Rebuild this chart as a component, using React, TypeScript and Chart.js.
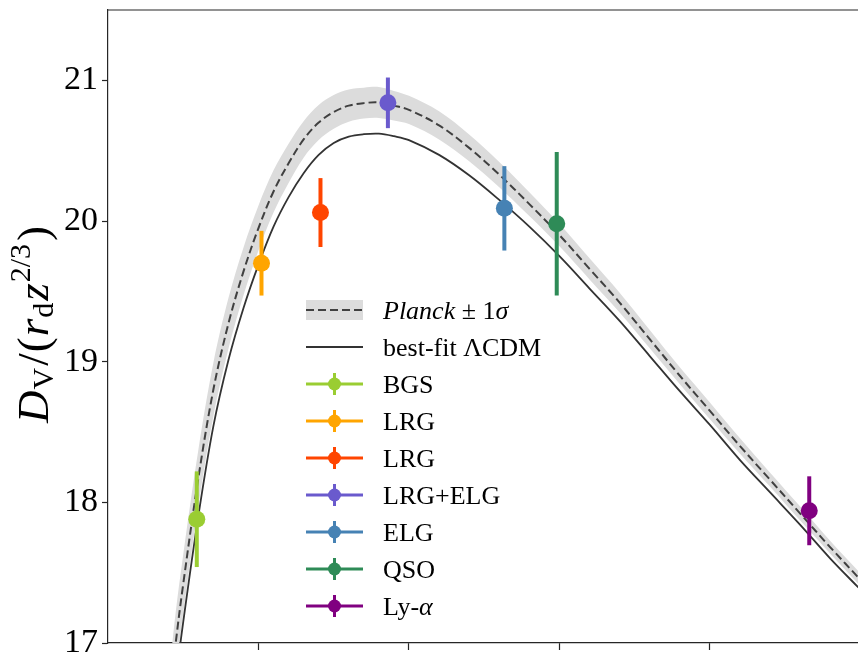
import React, { useEffect, useRef } from "react";
import { Chart, registerables } from "chart.js";

Chart.register(...registerables);

// ---- Model curves ----
const curveZ = [0.2, 0.225, 0.25, 0.3, 0.35, 0.4, 0.45, 0.5, 0.55, 0.6, 0.65, 0.7, 0.75, 0.8, 0.85, 0.9, 0.95, 1.0, 1.1, 1.2, 1.3, 1.4, 1.5, 1.6, 1.7, 1.8, 1.9, 2.0, 2.1, 2.2, 2.3, 2.4, 2.5];
const planckMid = [16.5, 17.0, 17.42, 18.17, 18.8, 19.27, 19.64, 19.95, 20.21, 20.41, 20.58, 20.7, 20.775, 20.82, 20.838, 20.843, 20.82, 20.79, 20.68, 20.52, 20.33, 20.12, 19.9, 19.66, 19.42, 19.16, 18.9, 18.65, 18.4, 18.16, 17.92, 17.68, 17.45];
const planckUpper = [16.72, 17.22, 17.63, 18.37, 18.99, 19.45, 19.81, 20.11, 20.36, 20.55, 20.71, 20.825, 20.895, 20.935, 20.948, 20.953, 20.925, 20.89, 20.78, 20.615, 20.42, 20.205, 19.98, 19.735, 19.49, 19.225, 18.96, 18.71, 18.455, 18.21, 17.97, 17.725, 17.495];
const planckLower = [16.28, 16.78, 17.21, 17.97, 18.61, 19.09, 19.47, 19.79, 20.06, 20.27, 20.45, 20.575, 20.655, 20.705, 20.728, 20.733, 20.715, 20.69, 20.58, 20.425, 20.24, 20.035, 19.82, 19.585, 19.35, 19.095, 18.84, 18.59, 18.345, 18.11, 17.87, 17.635, 17.405];
const bestFit = [16.23, 16.73, 17.15, 17.9, 18.54, 19.01, 19.38, 19.69, 19.96, 20.17, 20.34, 20.47, 20.555, 20.6, 20.617, 20.621, 20.603, 20.575, 20.47, 20.325, 20.15, 19.96, 19.75, 19.52, 19.29, 19.04, 18.79, 18.55, 18.3, 18.07, 17.84, 17.6, 17.38];

// ---- DESI measurements ----
const tracerNames = ["BGS", "LRG", "LRG", "LRG+ELG", "ELG", "QSO", "Ly-α"];
const tracerZ = [0.295, 0.51, 0.706, 0.93, 1.317, 1.491, 2.33];
const tracerV = [17.88, 19.7, 20.06, 20.84, 20.09, 19.98, 17.94];
const tracerErr = [0.34, 0.23, 0.245, 0.18, 0.3, 0.51, 0.245];
const tracerColors = ["#9ACD32", "#FFA500", "#FF4500", "#6A5ACD", "#4682B4", "#2E8B57", "#800080"];

// ---- Axes ----
const yTicks = [17, 18, 19, 20, 21];
const xTicks = [0.5, 1.0, 1.5, 2.0];
const yMin = 17;
const yMax = 21.5;
const xMin = 0;
const xMax = 2.492;

const SERIF = '"Liberation Serif", "Times New Roman", serif';
const AXIS_COLOR = "#262626";

const pts = (ys: number[]) => curveZ.map((z, i) => ({ x: z, y: ys[i] }));

const errorBarPlugin = {
  id: "errorBars",
  beforeDatasetDraw(chart: any, args: any) {
    const ds = chart.data.datasets[args.index];
    if (ds.tracerIndex === undefined) return;
    const i = ds.tracerIndex;
    const xs = chart.scales.x;
    const ys = chart.scales.y;
    const ctx = chart.ctx;
    const px = xs.getPixelForValue(tracerZ[i]);
    const y1 = ys.getPixelForValue(tracerV[i] + tracerErr[i]);
    const y2 = ys.getPixelForValue(tracerV[i] - tracerErr[i]);
    ctx.save();
    ctx.strokeStyle = tracerColors[i];
    ctx.lineWidth = 4;
    ctx.beginPath();
    ctx.moveTo(px, y1);
    ctx.lineTo(px, y2);
    ctx.stroke();
    ctx.restore();
  },
};

function drawPieces(ctx: CanvasRenderingContext2D, x: number, y: number, pieces: { t: string; font: string; dy: number; gap?: number }[]) {
  let cx = x;
  for (const p of pieces) {
    ctx.font = p.font;
    ctx.fillText(p.t, cx, y + p.dy);
    cx += ctx.measureText(p.t).width + (p.gap || 0);
  }
}

const decorPlugin = {
  id: "decor",
  afterDraw(chart: any) {
    const ctx: CanvasRenderingContext2D = chart.ctx;
    const area = chart.chartArea;
    ctx.save();
    // top spine
    ctx.strokeStyle = AXIS_COLOR;
    ctx.lineWidth = 1.2;
    ctx.beginPath();
    ctx.moveTo(area.left, area.top);
    ctx.lineTo(area.right, area.top);
    ctx.stroke();

    // y-axis title
    ctx.save();
    ctx.translate(48, 423);
    ctx.rotate(-Math.PI / 2);
    ctx.fillStyle = "#000";
    ctx.textAlign = "left";
    ctx.textBaseline = "alphabetic";
    drawPieces(ctx, 0, 0, [
      { t: "D", font: `italic 45px ${SERIF}`, dy: 0, gap: 1 },
      { t: "V", font: `30px ${SERIF}`, dy: 5, gap: 2 },
      { t: "/", font: `45px ${SERIF}`, dy: 0, gap: 1 },
      { t: "(", font: `45px ${SERIF}`, dy: 0, gap: 1 },
      { t: "r", font: `italic 45px ${SERIF}`, dy: 0, gap: 1 },
      { t: "d", font: `30px ${SERIF}`, dy: 5, gap: 2 },
      { t: "z", font: `italic 45px ${SERIF}`, dy: 0, gap: 1 },
      { t: "2/3", font: `30px ${SERIF}`, dy: -18, gap: 3 },
      { t: ")", font: `45px ${SERIF}`, dy: 0 },
    ]);
    ctx.restore();

    // legend
    const hx1 = 306;
    const hx2 = 363;
    const hcx = (hx1 + hx2) / 2;
    const tx = 383;
    const y0 = 310;
    const dy = 37;
    const base = 9;
    const LF = `26px ${SERIF}`;
    const LFI = `italic 26px ${SERIF}`;
    ctx.textAlign = "left";
    ctx.textBaseline = "alphabetic";

    // Planck row
    ctx.fillStyle = "#dcdcdc";
    ctx.fillRect(hx1, y0 - 10, hx2 - hx1, 20);
    ctx.strokeStyle = "#404040";
    ctx.lineWidth = 2;
    ctx.setLineDash([8, 4]);
    ctx.beginPath();
    ctx.moveTo(hx1, y0);
    ctx.lineTo(hx2, y0);
    ctx.stroke();
    ctx.setLineDash([]);
    ctx.fillStyle = "#000";
    drawPieces(ctx, tx, y0 + base, [
      { t: "Planck", font: LFI, dy: 0 },
      { t: " ± 1", font: LF, dy: 0 },
      { t: "σ", font: LFI, dy: 0 },
    ]);

    // best-fit row
    const y1 = y0 + dy;
    ctx.strokeStyle = "#333333";
    ctx.lineWidth = 1.8;
    ctx.beginPath();
    ctx.moveTo(hx1, y1);
    ctx.lineTo(hx2, y1);
    ctx.stroke();
    drawPieces(ctx, tx, y1 + base, [{ t: "best-fit ΛCDM", font: LF, dy: 0 }]);

    // tracer rows
    tracerNames.forEach((name, i) => {
      const y = y0 + dy * (i + 2);
      ctx.strokeStyle = tracerColors[i];
      ctx.fillStyle = tracerColors[i];
      ctx.lineWidth = 3;
      ctx.beginPath();
      ctx.moveTo(hx1, y);
      ctx.lineTo(hx2, y);
      ctx.moveTo(hcx, y - 11);
      ctx.lineTo(hcx, y + 11);
      ctx.stroke();
      ctx.beginPath();
      ctx.arc(hcx, y, 6.5, 0, Math.PI * 2);
      ctx.fill();
      ctx.fillStyle = "#000";
      if (name === "Ly-α") {
        drawPieces(ctx, tx, y + base, [
          { t: "Ly-", font: LF, dy: 0 },
          { t: "α", font: LFI, dy: 0 },
        ]);
      } else {
        drawPieces(ctx, tx, y + base, [{ t: name, font: LF, dy: 0 }]);
      }
    });
    ctx.restore();
  },
};

export default function App() {
  const canvasRef = useRef<HTMLCanvasElement | null>(null);

  useEffect(() => {
    if (!canvasRef.current) return;
    const datasets: any[] = [];
    tracerNames.forEach((name, i) => {
      datasets.push({
        type: "scatter",
        label: name,
        tracerIndex: i,
        data: [{ x: tracerZ[i], y: tracerV[i] }],
        pointRadius: 8.5,
        pointBackgroundColor: tracerColors[i],
        pointBorderColor: tracerColors[i],
        pointBorderWidth: 0,
        order: 1,
      });
    });
    datasets.push({
      type: "line",
      label: "best-fit",
      data: pts(bestFit),
      borderColor: "#333333",
      borderWidth: 1.8,
      pointRadius: 0,
      fill: false,
      tension: 0.35,
      order: 5,
    });
    datasets.push({
      type: "line",
      label: "Planck",
      data: pts(planckMid),
      borderColor: "#404040",
      borderWidth: 2,
      borderDash: [8, 4],
      pointRadius: 0,
      fill: false,
      tension: 0.35,
      order: 6,
    });
    datasets.push({
      type: "line",
      label: "Planck upper",
      data: pts(planckUpper),
      borderWidth: 0,
      borderColor: "rgba(0,0,0,0)",
      backgroundColor: "#dcdcdc",
      pointRadius: 0,
      fill: "+1",
      tension: 0.35,
      order: 8,
    });
    datasets.push({
      type: "line",
      label: "Planck lower",
      data: pts(planckLower),
      borderWidth: 0,
      borderColor: "rgba(0,0,0,0)",
      pointRadius: 0,
      fill: false,
      tension: 0.35,
      order: 9,
    });

    const chart = new Chart(canvasRef.current, {
      type: "scatter",
      data: { datasets },
      options: {
        animation: false,
        responsive: false,
        devicePixelRatio: 1,
        layout: { autoPadding: false, padding: { top: 10, left: 0, right: 0, bottom: 0 } },
        plugins: {
          legend: { display: false },
          tooltip: { enabled: false },
          title: { display: false },
        },
        scales: {
          x: {
            type: "linear",
            min: xMin,
            max: xMax,
            afterBuildTicks: (scale: any) => {
              scale.ticks = xTicks.map((v) => ({ value: v }));
            },
            afterFit: (scale: any) => {
              scale.height = 15;
              scale.paddingLeft = 0;
              scale.paddingRight = 0;
              scale.paddingTop = 0;
              scale.paddingBottom = 0;
            },
            ticks: {
              display: true,
              callback: () => "",
              font: { size: 1 },
              padding: 0,
            },
            grid: {
              drawOnChartArea: false,
              drawTicks: true,
              tickLength: 7,
              tickWidth: 1.2,
              tickColor: AXIS_COLOR,
            },
            border: { display: true, color: AXIS_COLOR, width: 1.2 },
          },
          y: {
            type: "linear",
            min: yMin,
            max: yMax,
            afterBuildTicks: (scale: any) => {
              scale.ticks = yTicks.map((v) => ({ value: v }));
            },
            afterFit: (scale: any) => {
              scale.width = 108;
              scale.paddingLeft = 0;
              scale.paddingRight = 0;
              scale.paddingTop = 0;
              scale.paddingBottom = 0;
            },
            ticks: {
              color: "#000",
              font: { family: SERIF, size: 34 },
              padding: 4,
              callback: (v: any) => String(v),
            },
            grid: {
              drawOnChartArea: false,
              drawTicks: true,
              tickLength: 6,
              tickWidth: 1.2,
              tickColor: AXIS_COLOR,
            },
            border: { display: true, color: AXIS_COLOR, width: 1.2 },
          },
        },
      } as any,
      plugins: [errorBarPlugin, decorPlugin],
    });
    return () => chart.destroy();
  }, []);

  return (
    <div style={{ position: "absolute", left: 0, top: 0, width: 858, height: 658, overflow: "hidden", background: "#fff" }}>
      <canvas ref={canvasRef} width={858} height={658} style={{ width: 858, height: 658, display: "block" }} />
    </div>
  );
}
